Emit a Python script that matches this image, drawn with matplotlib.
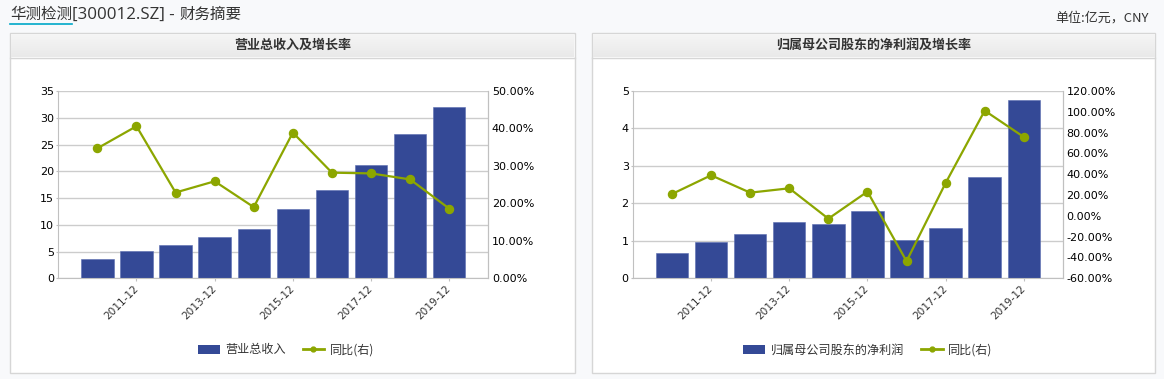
import matplotlib
matplotlib.use("Agg")
import matplotlib.pyplot as plt
from matplotlib.patches import Rectangle
from matplotlib.lines import Line2D
from matplotlib.ticker import FuncFormatter, MultipleLocator
from matplotlib.transforms import ScaledTranslation
import numpy as np

W, H = 1164, 379
plt.rcParams['font.family'] = ['Noto Sans CJK SC', 'DejaVu Sans']

# data (亿元 / %)
years = ['2010-12', '2011-12', '2012-12', '2013-12', '2014-12',
         '2015-12', '2016-12', '2017-12', '2018-12', '2019-12']
revenue = [3.63, 5.13, 6.25, 7.75, 9.25, 13.0, 16.5, 21.2, 26.9, 31.95]
revenue_yoy = [34.7, 40.6, 22.9, 25.9, 19.0, 38.9, 28.2, 28.0, 26.4, 18.6]
profit = [0.675, 0.98, 1.18, 1.51, 1.45, 1.80, 1.03, 1.34, 2.71, 4.77]
profit_yoy = [21.0, 39.0, 22.3, 26.5, -2.7, 23.3, -43.6, 31.6, 101.1, 75.8]

BAR = '#344996'
LINE = '#8ca600'
GRID = '#cccccc'
AXC = '#c0c0c0'
TXT = '#333333'


def fx(x):
    return x / W


def fy(y):
    return 1 - y / H


fig = plt.figure(figsize=(W / 100, H / 100), dpi=100)
fig.patch.set_facecolor('#f8f9fb')
r = fig.canvas.get_renderer()

# title, in three pieces so the name can be underlined
t1 = fig.text(fx(10), fy(14), '华测检测', fontsize=11.2, color=TXT, ha='left', va='center')
bb = t1.get_window_extent(r)
t2 = fig.text(bb.x1 / W, fy(14.5), '[300012.SZ] - ', fontsize=12.2, family='Open Sans',
              color=TXT, ha='left', va='center')
bb2 = t2.get_window_extent(r)
fig.text(bb2.x1 / W, fy(14), '财务摘要', fontsize=11.2, color=TXT, ha='left', va='center')
fig.add_artist(Line2D([bb.x0 / W, bb.x1 / W], [fy(23.5), fy(23.5)], color='#00a8c8',
                      lw=1.2, transform=fig.transFigure))
fig.text(fx(1149), fy(18), '单位:亿元，CNY', fontsize=9.4, color=TXT, ha='right', va='center')


def panel(x0, x1, title):
    y0, y1 = 32.5, 373
    fig.add_artist(Rectangle((fx(x0), fy(y1)), (x1 - x0) / W, (y1 - y0) / H,
                             facecolor='white', edgecolor='#d6d6d6', lw=1,
                             transform=fig.transFigure, zorder=0))
    hax = fig.add_axes([fx(x0 + 1), fy(57.5), (x1 - x0 - 2) / W, 24 / H], zorder=1)
    grad = np.linspace(0, 1, 50).reshape(-1, 1)
    hax.imshow(grad, aspect='auto', cmap=matplotlib.colors.LinearSegmentedColormap.from_list(
        'h', ['#f6f6f6', '#e9e9e9']), extent=[0, 1, 0, 1])
    hax.axis('off')
    fig.add_artist(Line2D([fx(x0), fx(x1)], [fy(57.5), fy(57.5)], color='#d6d6d6', lw=1,
                          transform=fig.transFigure, zorder=2))
    fig.text(fx((x0 + x1) / 2), fy(45), title, fontsize=9.4, color=TXT, weight='bold',
             ha='center', va='center', zorder=3)


def chart(left, bars, yoy, ymax, ystep, rlim, rstep, bar_label, legend_x):
    ax = fig.add_axes([fx(left), fy(278.3), 430 / W, 187.3 / H], zorder=3)
    ax.set_facecolor('none')
    x = np.arange(len(years))
    ax.bar(x, bars, width=0.83, color=BAR, edgecolor='#5a6db0', lw=0.4, zorder=2)
    ax.set_xlim(-1, 10)
    ax.set_ylim(0, ymax)
    ax.yaxis.set_major_locator(MultipleLocator(ystep))
    ax.grid(axis='y', color=GRID, lw=1, zorder=0)
    ax.set_axisbelow(True)
    ax.set_xticks(x[1::2])
    ax.set_xticklabels(years[1::2], rotation=45, ha='right', va='center',
                       rotation_mode='anchor', fontsize=7.6, family='DejaVu Sans', color=TXT)
    shift = ScaledTranslation(3 / 100, -1 / 100, fig.dpi_scale_trans)
    for lab in ax.get_xticklabels():
        lab.set_transform(lab.get_transform() + shift)
    ax.tick_params(axis='x', length=2.4, color=AXC, pad=4)
    ax.tick_params(axis='y', length=1.5, color=AXC, pad=1.5, labelsize=8, labelcolor='black')
    for s in ['left', 'bottom', 'right']:
        ax.spines[s].set_color(AXC)
    ax.spines['top'].set_visible(False)
    for lab in ax.get_yticklabels():
        lab.set_family('DejaVu Sans')

    ax2 = ax.twinx()
    ax2.plot(x, yoy, color=LINE, lw=1.6, marker='o', markersize=5.8, zorder=3)
    ax2.set_ylim(*rlim)
    ax2.yaxis.set_major_locator(MultipleLocator(rstep))
    ax2.yaxis.set_major_formatter(FuncFormatter(lambda v, p: '%.2f%%' % v))
    ax2.tick_params(axis='y', length=0, pad=2.5, labelsize=8, labelcolor='black')
    for lab in ax2.get_yticklabels():
        lab.set_family('DejaVu Sans')
    for s in ['left', 'top', 'bottom']:
        ax2.spines[s].set_visible(False)
    ax2.spines['right'].set_color(AXC)
    ax2.set_xlim(-1, 10)

    hb = Rectangle((0, 0), 1, 1, facecolor=BAR)
    hl = Line2D([], [], color=LINE, lw=2, marker='o', markersize=3.5)
    leg = ax.legend([hb, hl], [bar_label, '同比(右)'], loc='center', ncol=2,
                    bbox_to_anchor=(fx(legend_x), fy(350)), bbox_transform=fig.transFigure,
                    frameon=False, fontsize=8.7, handlelength=1.8, handleheight=0.8,
                    handletextpad=0.45, columnspacing=1.4)
    for t in leg.get_texts():
        t.set_color(TXT)


panel(10, 575, '营业总收入及增长率')
panel(591.5, 1155, '归属母公司股东的净利润及增长率')

chart(58.3, revenue, revenue_yoy, 35, 5, (0, 50), 10, '营业总收入', 286)
chart(632.9, profit, profit_yoy, 5, 1, (-60, 120), 20, '归属母公司股东的净利润', 868)

fig.savefig('out.png', dpi=100, facecolor=fig.get_facecolor())
